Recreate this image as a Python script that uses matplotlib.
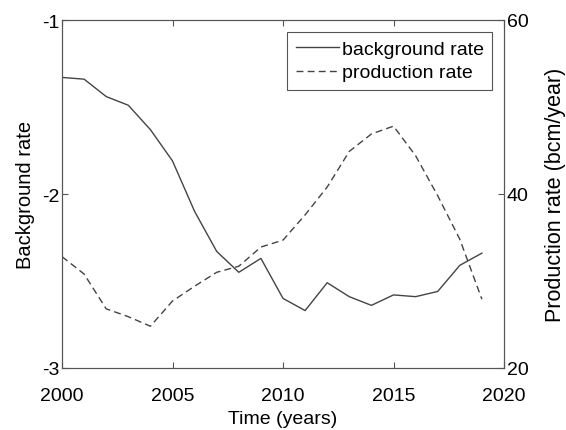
import matplotlib.pyplot as plt

plt.rcParams['font.family'] = ['Liberation Sans', 'DejaVu Sans']
plt.rcParams['axes.unicode_minus'] = False

years = list(range(2000, 2020))
background = [-1.33, -1.34, -1.44, -1.49, -1.63, -1.81, -2.10, -2.33, -2.45, -2.37,
              -2.60, -2.67, -2.51, -2.59, -2.64, -2.58, -2.59, -2.56, -2.41, -2.34]
production = [32.8, 30.8, 26.8, 25.9, 24.8, 27.7, 29.4, 31.0, 31.7, 33.9,
              34.7, 37.6, 40.8, 44.9, 46.9, 47.8, 44.4, 39.8, 34.8, 27.9]

line_col = '#444444'
spine_col = '#555555'

fig = plt.figure(figsize=(5.66, 4.31), dpi=100)
ax = fig.add_axes([62/566, 1 - 369/431, (504-62)/566, (369-21)/431])
ax2 = ax.twinx()

l1, = ax.plot(years, background, color=line_col, lw=1.0, label='background rate')
l2, = ax2.plot(years, production, color=line_col, lw=1.0, ls=(0, (5, 3)), label='production rate')

ax.set_xlim(2000, 2020)
ax.set_ylim(-3, -1)
ax2.set_ylim(20, 60)
ax.set_xticks([2000, 2005, 2010, 2015, 2020])
ax.set_yticks([-3, -2, -1])
ax2.set_yticks([20, 40, 60])

for a in (ax, ax2):
    for s in a.spines.values():
        s.set_color(spine_col)
        s.set_linewidth(0.8)
    a.tick_params(direction='in', length=4, color=spine_col, labelsize=14, width=0.8, pad=2)
ax.tick_params(top=True)
ax.tick_params(axis='x', pad=14)

ax.set_xlabel('Time (years)', fontsize=14, labelpad=4)
ax.set_ylabel('Background rate', fontsize=14.5, labelpad=5)
ax2.set_ylabel('Production rate (bcm/year)', fontsize=15.5, labelpad=12)

leg = ax.legend(handles=[l1, l2], loc='upper right', fontsize=14, fancybox=False,
                framealpha=1, edgecolor=spine_col, handlelength=2.2, handletextpad=0.15,
                borderaxespad=0.6, labelspacing=0.3, borderpad=0.45)
leg.get_frame().set_linewidth(0.8)

fig.savefig('out.png', dpi=100)
